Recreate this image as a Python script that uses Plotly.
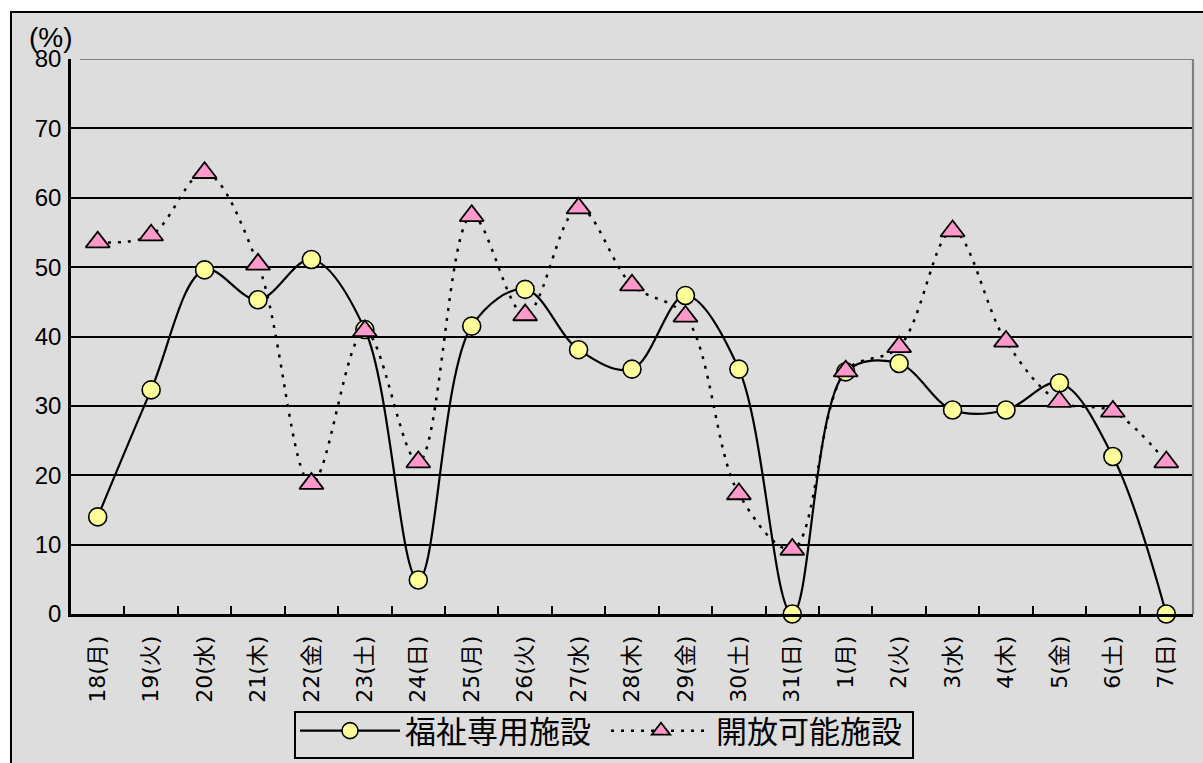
import plotly.graph_objects as go

categories = ["18(月)", "19(火)", "20(水)", "21(木)", "22(金)", "23(土)", "24(日)",
              "25(月)", "26(火)", "27(水)", "28(木)", "29(金)", "30(土)", "31(日)",
              "1(月)", "2(火)", "3(水)", "4(木)", "5(金)", "6(土)", "7(日)"]
welfare = [14.0, 32.3, 49.6, 45.3, 51.1, 41.0, 4.9, 41.5, 46.8, 38.1, 35.3,
           45.9, 35.3, 0.0, 34.9, 36.1, 29.4, 29.4, 33.3, 22.7, 0.0]
open_fac = [53.6, 54.6, 63.6, 50.4, 18.8, 40.8, 21.9, 57.4, 43.1, 58.5, 47.4,
            42.9, 17.3, 9.3, 35.0, 38.5, 55.2, 39.3, 30.6, 29.2, 21.9]
yticks = [0, 10, 20, 30, 40, 50, 60, 70, 80]
series_names = ["福祉専用施設", "開放可能施設"]

FONT = "Liberation Sans, Arial, Noto Sans CJK JP, sans-serif"
XFONT = "DejaVu Sans, Noto Sans CJK JP, sans-serif"
GRAY = "#DDDDDD"

W, H = 1203, 763
ML, MR, MT, MB = 71, 10, 59, 149
PW = W - ML - MR
PH = H - MT - MB


def px_x(x):
    return (x - ML) / PW


def px_y(y):
    return (H - MB - y) / PH


fig = go.Figure()
fig.add_trace(go.Scatter(
    x=categories, y=welfare, name=series_names[0], mode="lines+markers",
    cliponaxis=False,
    line=dict(color="black", width=2.2, shape="spline", smoothing=1.0),
    marker=dict(symbol="circle", size=18, color="#FFFF99",
                line=dict(color="black", width=1.6)),
))
fig.add_trace(go.Scatter(
    x=categories, y=open_fac, name=series_names[1], mode="lines+markers",
    cliponaxis=False,
    line=dict(color="black", width=2.5, shape="spline", smoothing=1.0, dash="3px,7px"),
    marker=dict(symbol="triangle-up", size=21, color="#FF99CC",
                line=dict(color="black", width=1.8)),
))

shapes = [
    # outer frame
    dict(type="rect", xref="paper", yref="paper",
         x0=px_x(11), x1=px_x(1230), y0=px_y(790), y1=px_y(12),
         fillcolor=GRAY, line=dict(color="black", width=2), layer="below"),
    # legend box
    dict(type="rect", xref="paper", yref="paper",
         x0=px_x(295), x1=px_x(913), y0=px_y(758), y1=px_y(712),
         fillcolor=GRAY, line=dict(color="black", width=2), layer="below"),
    # top border (gray)
    dict(type="line", xref="paper", yref="y", x0=px_x(80), x1=1, y0=80, y1=80,
         line=dict(color="#808080", width=2.2), layer="above"),
    # right border (gray)
    dict(type="line", xref="paper", yref="y", x0=1, x1=1, y0=0, y1=80,
         line=dict(color="#808080", width=2.2), layer="above"),
]

fig.update_layout(
    width=W, height=H,
    margin=dict(l=ML, r=MR, t=MT, b=MB, autoexpand=False),
    paper_bgcolor="white",
    plot_bgcolor="rgba(0,0,0,0)",
    font=dict(family=FONT, color="black", size=20),
    shapes=shapes,
    showlegend=True,
    legend=dict(
        orientation="h", x=px_x(295), y=px_y(704), xanchor="left", yanchor="top",
        bgcolor="rgba(0,0,0,0)", borderwidth=0,
        font=dict(family="Noto Sans CJK JP", size=31, color="black"),
        itemwidth=100, tracegroupgap=0,
        entrywidth=196, entrywidthmode="pixels",
    ),
    annotations=[dict(text="(%)", xref="paper", yref="paper", x=px_x(51), y=px_y(38),
                      xanchor="center", yanchor="middle",
                      showarrow=False, font=dict(family=FONT, size=28, color="black"))],
)

fig.update_xaxes(
    type="category", range=[-0.5, len(categories) - 0.5], automargin=False,
    showgrid=False, showline=True, linecolor="black", linewidth=2.5,
    ticks="inside", tickson="boundaries", ticklen=8, tickwidth=2, tickcolor="black",
    tickangle=-90, tickfont=dict(family=XFONT, size=22), ticklabelstandoff=10,
)
fig.update_yaxes(
    range=[0, 80], tickvals=yticks, ticktext=[str(v) for v in yticks],
    showgrid=True, gridcolor="black", gridwidth=2,
    showline=True, linecolor="black", linewidth=2.5,
    ticks="inside", ticklen=9, tickwidth=2, tickcolor="black",
    tickfont=dict(family=FONT, size=24), ticklabelstandoff=2,
    zeroline=False,
)

fig.write_html("out.html", config={"displayModeBar": False},
               post_script="document.body.style.margin='0';document.body.style.overflow='hidden';")
